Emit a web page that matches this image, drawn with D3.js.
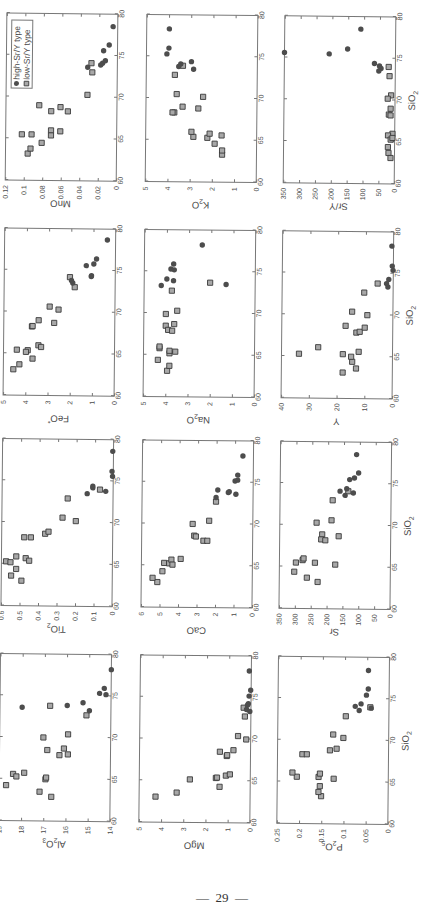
<!DOCTYPE html>
<html lang="en">
<head>
<meta charset="utf-8">
<title>Harker diagrams</title>
<script src="https://d3js.org/d3.v7.min.js"></script>
<style>
  body { margin: 0; background: #fff; }
</style>
</head>
<body>
<script>
    // [SiO2, value] pairs
    const al2o3Low = [[62.9,16.65],[63.5,17.18],[64.25,18.69],[65.6,18.38],[65.3,18.23],[65.75,17.88],[65.0,16.92],[65.2,16.89],[67.9,16.3],[68.0,15.92],[68.7,16.1],[68.5,16.85],[70.0,17.03],[70.4,15.92],[72.7,15.1],[73.8,16.74]];
    const al2o3High = [[73.6,18.0],[73.85,15.97],[74.2,15.26],[73.25,14.97],[75.35,14.52],[75.95,14.31],[75.2,14.23],[78.2,14.0]];
    const tio2Low = [[63.0,0.491],[63.6,0.547],[64.4,0.52],[65.3,0.575],[65.2,0.551],[65.9,0.52],[65.7,0.469],[65.4,0.45],[68.2,0.478],[68.2,0.442],[68.65,0.365],[68.9,0.347],[70.6,0.272],[70.2,0.20],[72.9,0.245],[74.0,0.071]];
    const tio2High = [[73.5,0.14],[73.8,0.04],[74.2,0.11],[74.4,0.11],[75.6,0.004],[76.2,0.007],[78.6,0.004]];
    const feoLow = [[63.1,4.55],[63.7,4.28],[65.45,4.40],[65.4,3.91],[65.2,3.99],[64.4,3.69],[66.0,3.43],[65.8,3.31],[68.25,3.73],[68.3,3.70],[69.0,3.43],[68.7,2.73],[70.65,2.94],[70.3,2.54],[74.2,2.04],[73.0,1.82]];
    const feoHigh = [[73.8,1.97],[73.5,1.91],[74.4,1.07],[74.3,1.08],[75.6,1.31],[75.8,0.97],[76.4,0.85],[78.7,0.37]];
    const mnoLow = [[63.2,0.096],[63.8,0.093],[65.5,0.1025],[65.5,0.092],[64.5,0.081],[66.0,0.071],[65.4,0.071],[65.9,0.061],[69.0,0.084],[68.3,0.071],[68.8,0.061],[68.3,0.053],[70.3,0.032],[74.1,0.028],[73.0,0.027]];
    const mnoHigh = [[73.6,0.032],[73.9,0.018],[74.1,0.016],[74.4,0.013],[75.6,0.015],[76.3,0.009],[78.5,0.005]];
    const mgoLow = [[63.05,4.26],[63.56,3.31],[65.15,2.72],[65.35,1.55],[65.4,1.5],[64.3,1.38],[65.65,1.1],[65.8,0.92],[68.5,1.38],[68.0,1.07],[68.1,1.05],[68.7,0.77],[70.4,0.57],[70.0,0.2],[72.75,0.27],[73.8,0.33]];
    const mgoHigh = [[73.6,0.2],[74.1,0.16],[74.3,0.12],[75.2,0.09],[75.9,0.02],[78.2,0.09],[73.35,0.05]];
    const caoLow = [[63.0,5.13],[63.5,5.39],[64.3,4.86],[65.3,4.77],[65.25,4.5],[65.7,4.38],[65.1,4.32],[65.8,3.88],[68.6,3.16],[68.5,3.07],[68.0,2.66],[68.0,2.45],[70.0,3.25],[70.4,2.36],[72.7,2.0]];
    const caoHigh = [[73.2,2.0],[74.1,1.91],[73.8,1.34],[73.9,1.29],[73.6,0.93],[75.2,0.98],[75.3,0.84],[75.9,0.84],[78.2,0.57]];
    const na2oLow = [[63.1,3.93],[63.7,3.83],[64.4,4.35],[65.4,3.57],[65.2,3.83],[65.5,3.83],[65.8,4.28],[66.0,4.28],[68.5,4.01],[68.0,3.90],[67.9,3.72],[68.7,3.63],[69.9,4.01],[70.3,3.50],[72.7,3.75],[73.7,2.03]];
    const na2oHigh = [[73.3,4.23],[74.1,3.98],[73.9,3.68],[73.5,1.31],[75.3,3.80],[75.2,3.65],[75.9,3.68],[78.2,2.40]];
    const k2oLow = [[63.3,1.55],[63.8,1.55],[64.6,1.89],[65.6,1.58],[65.3,2.22],[65.8,2.12],[65.4,2.85],[66.0,2.94],[69.0,3.35],[68.3,3.72],[68.3,3.80],[68.8,2.64],[70.5,3.62],[70.2,2.43],[72.8,3.71],[73.9,3.35]];
    const k2oHigh = [[74.4,2.97],[73.5,2.87],[73.8,3.54],[74.1,3.45],[75.3,4.08],[76.0,3.99],[78.3,3.98]];
    const p2o5Low = [[63.3,0.151],[63.8,0.157],[64.5,0.154],[65.6,0.157],[66.0,0.154],[65.4,0.123],[65.6,0.206],[66.1,0.216],[68.3,0.194],[68.3,0.184],[68.8,0.132],[69.0,0.117],[70.7,0.125],[70.3,0.102],[72.9,0.097],[74.0,0.042]];
    const p2o5High = [[74.1,0.076],[74.4,0.063],[73.6,0.067],[73.9,0.04],[75.45,0.051],[76.2,0.047],[78.4,0.047]];
    const srLow = [[63.2,229],[63.7,263],[64.4,303],[65.5,298],[65.5,238],[65.3,174],[65.8,277],[66.0,274],[68.9,216],[68.3,219],[68.2,206],[68.7,164],[70.3,234],[70.6,187],[73.0,184],[74.1,135]];
    const srHigh = [[74.1,161],[73.6,145],[74.4,140],[73.9,119],[75.5,131],[75.7,116],[76.3,103],[78.5,110]];
    const yLow = [[63.1,17.9],[63.6,13.1],[64.4,14.5],[65.3,33.7],[65.3,17.9],[65.0,14.9],[65.6,12.2],[66.1,26.8],[68.7,17.0],[67.9,13.1],[68.0,11.9],[68.5,10.1],[70.4,14.7],[70.0,9.2],[72.7,10.4],[73.8,5.6]];
    const yHigh = [[73.8,2.4],[73.4,1.9],[74.3,1.6],[75.4,0.1],[75.9,0.4],[78.3,0.6]];
    const srYLow = [[74.0,21],[72.9,18],[70.6,12.5],[70.2,23],[69.0,13.6],[68.3,19],[68.2,13.6],[66.0,7],[65.8,21],[65.3,12.5],[65.5,7],[64.4,21],[63.7,19],[63.1,12.5]];
    const srYHigh = [[75.6,350],[75.5,209],[76.1,151],[78.5,110],[74.4,66],[74.1,50],[73.8,45],[73.5,52]];

    const sio2Ticks = [60, 65, 70, 75, 80];
    const al2o3Ticks = [14, 15, 16, 17, 18, 19];
    const tio2Ticks = [0, 0.1, 0.2, 0.3, 0.4, 0.5, 0.6];
    const feoTicks = [0, 1, 2, 3, 4, 5];
    const mnoTicks = [0, 0.02, 0.04, 0.06, 0.08, 0.1, 0.12];
    const mgoTicks = [0, 1, 2, 3, 4, 5];
    const caoTicks = [0, 1, 2, 3, 4, 5, 6];
    const na2oTicks = [0, 1, 2, 3, 4, 5];
    const k2oTicks = [0, 1, 2, 3, 4, 5];
    const p2o5Ticks = [0, 0.05, 0.1, 0.15, 0.2, 0.25];
    const srTicks = [0, 50, 100, 150, 200, 250, 300, 350];
    const yTicks = [0, 10, 20, 30, 40];
    const srYTicks = [0, 50, 100, 150, 200, 250, 300, 350];

    const legendLabels = ["high-Sr/Y type", "low-Sr/Y type"];

    // title pieces: 0 normal, 1 subscript, 2 superscript
    const panels = [
        {row: 0, col: 0, title: [["Al",0],["2",1],["O",0],["3",1]], ticks: al2o3Ticks, low: al2o3Low, high: al2o3High},
        {row: 0, col: 1, title: [["TiO",0],["2",1]], ticks: tio2Ticks, low: tio2Low, high: tio2High},
        {row: 0, col: 2, title: [["FeO",0],["*",2]], ticks: feoTicks, low: feoLow, high: feoHigh},
        {row: 0, col: 3, title: [["MnO",0]], ticks: mnoTicks, low: mnoLow, high: mnoHigh, legend: true},
        {row: 1, col: 0, title: [["MgO",0]], ticks: mgoTicks, low: mgoLow, high: mgoHigh},
        {row: 1, col: 1, title: [["CaO",0]], ticks: caoTicks, low: caoLow, high: caoHigh},
        {row: 1, col: 2, title: [["Na",0],["2",1],["O",0]], ticks: na2oTicks, low: na2oLow, high: na2oHigh},
        {row: 1, col: 3, title: [["K",0],["2",1],["O",0]], ticks: k2oTicks, low: k2oLow, high: k2oHigh},
        {row: 2, col: 0, title: [["P",0],["2",1],["O",0],["5",1]], ticks: p2o5Ticks, low: p2o5Low, high: p2o5High},
        {row: 2, col: 1, title: [["Sr",0]], ticks: srTicks, low: srLow, high: srHigh},
        {row: 2, col: 2, title: [["Y",0]], ticks: yTicks, low: yLow, high: yHigh},
        {row: 2, col: 3, title: [["Sr/Y",0]], ticks: srYTicks, low: srYLow, high: srYHigh}
    ];

    const W = 424, H = 905;
    const panelW = 167, panelH = 111;
    const imgTop = [13, 228, 438.5, 653.5];   // page y of SiO2 = 80, per printed row
    const imgLeft = [7, 147, 285];            // page x of each printed column
    const font = "'Liberation Sans', Arial, sans-serif";
    const ink = "#4a4a4a", frame = "#777";

    const svg = d3.select("body").append("svg").attr("width", W).attr("height", H);

    // the page is printed sideways (and a little skewed on the scan)
    const page = svg.append("g").attr("transform", `rotate(0.57) translate(0,${H}) rotate(-90)`);

    const fmt = d => String(+d.toFixed(3));

    function addTitle(sel, parts, fs) {
        let shift = 0;
        parts.forEach(([t, k]) => {
            const target = k === 1 ? fs * 0.3 : k === 2 ? -fs * 0.35 : 0;
            sel.append("tspan").attr("dy", target - shift)
                .attr("font-size", k ? fs * 0.72 : fs).text(t);
            shift = target;
        });
    }

    function square(sel, s) {
        sel.attr("x", -s / 2).attr("y", -s / 2).attr("width", s).attr("height", s)
            .attr("fill", "#a8a8a8").attr("stroke", "#3a3a3a").attr("stroke-width", 0.9);
    }

    panels.forEach(p => {
        const g = page.append("g")
            .attr("transform", `translate(${H - imgTop[3 - p.col] - panelW},${imgLeft[p.row]})`);
        const x = d3.scaleLinear().domain([60, 80]).range([0, panelW]);
        const y = d3.scaleLinear().domain([p.ticks[0], p.ticks[p.ticks.length - 1]]).range([panelH, 0]);

        g.append("g").attr("transform", `translate(0,${panelH})`)
            .call(d3.axisBottom(x).tickValues(sio2Ticks).tickSize(-3).tickPadding(1.5).tickFormat(d3.format("d")));
        g.append("g").call(d3.axisTop(x).tickValues(sio2Ticks).tickSize(-3).tickFormat(""));
        g.append("g").call(d3.axisLeft(y).tickValues(p.ticks).tickSize(-3).tickPadding(5).tickFormat(fmt));
        g.append("g").attr("transform", `translate(${panelW},0)`)
            .call(d3.axisRight(y).tickValues(p.ticks).tickSize(-3).tickFormat(""));
        g.selectAll(".domain").remove();
        g.selectAll(".tick line").attr("stroke", frame);
        g.selectAll(".tick text").attr("font-size", 7).attr("font-family", font).attr("fill", ink);

        g.append("rect").attr("width", panelW).attr("height", panelH)
            .attr("fill", "none").attr("stroke", frame).attr("stroke-width", 1);

        const t = g.append("text")
            .attr("transform", `translate(-20,${panelH / 2}) rotate(-90)`)
            .attr("text-anchor", "middle").attr("font-family", font).attr("fill", ink);
        addTitle(t, p.title, 9.5);

        if (p.row === 2) {
            const xt = g.append("text").attr("x", panelW / 2).attr("y", panelH + 20)
                .attr("text-anchor", "middle").attr("font-family", font).attr("fill", ink);
            addTitle(xt, [["SiO",0],["2",1]], 9.5);
        }

        g.selectAll("rect.low").data(p.low).join("rect").attr("class", "low")
            .attr("transform", d => `translate(${x(d[0])},${y(d[1])})`)
            .call(square, 5.2);
        g.selectAll("circle.high").data(p.high).join("circle").attr("class", "high")
            .attr("cx", d => x(d[0])).attr("cy", d => y(d[1])).attr("r", 2.7)
            .attr("fill", "#4d4d4d");

        if (p.legend) {
            const lg = g.append("g").attr("transform", "translate(92,5)");
            lg.append("rect").attr("width", 68).attr("height", 21)
                .attr("fill", "#fff").attr("stroke", frame);
            lg.append("circle").attr("cx", 4.7).attr("cy", 5.3).attr("r", 2.5).attr("fill", "#4d4d4d");
            lg.append("rect").attr("transform", "translate(4.7,15.3)").call(square, 4.6);
            lg.selectAll("text").data(legendLabels).join("text")
                .attr("x", 8.5).attr("y", (d, i) => 5.3 + i * 10).attr("dy", "0.35em")
                .attr("font-size", 8.5).attr("font-family", font).attr("fill", ink)
                .text(d => d);
        }
    });

    svg.append("text").attr("x", 222).attr("y", 902).attr("text-anchor", "middle")
        .attr("font-family", "'Liberation Serif', serif").attr("font-size", 13).attr("fill", "#333")
        .attr("xml:space", "preserve").style("white-space", "pre")
        .text("—  29  —");
</script>
</body>
</html>
